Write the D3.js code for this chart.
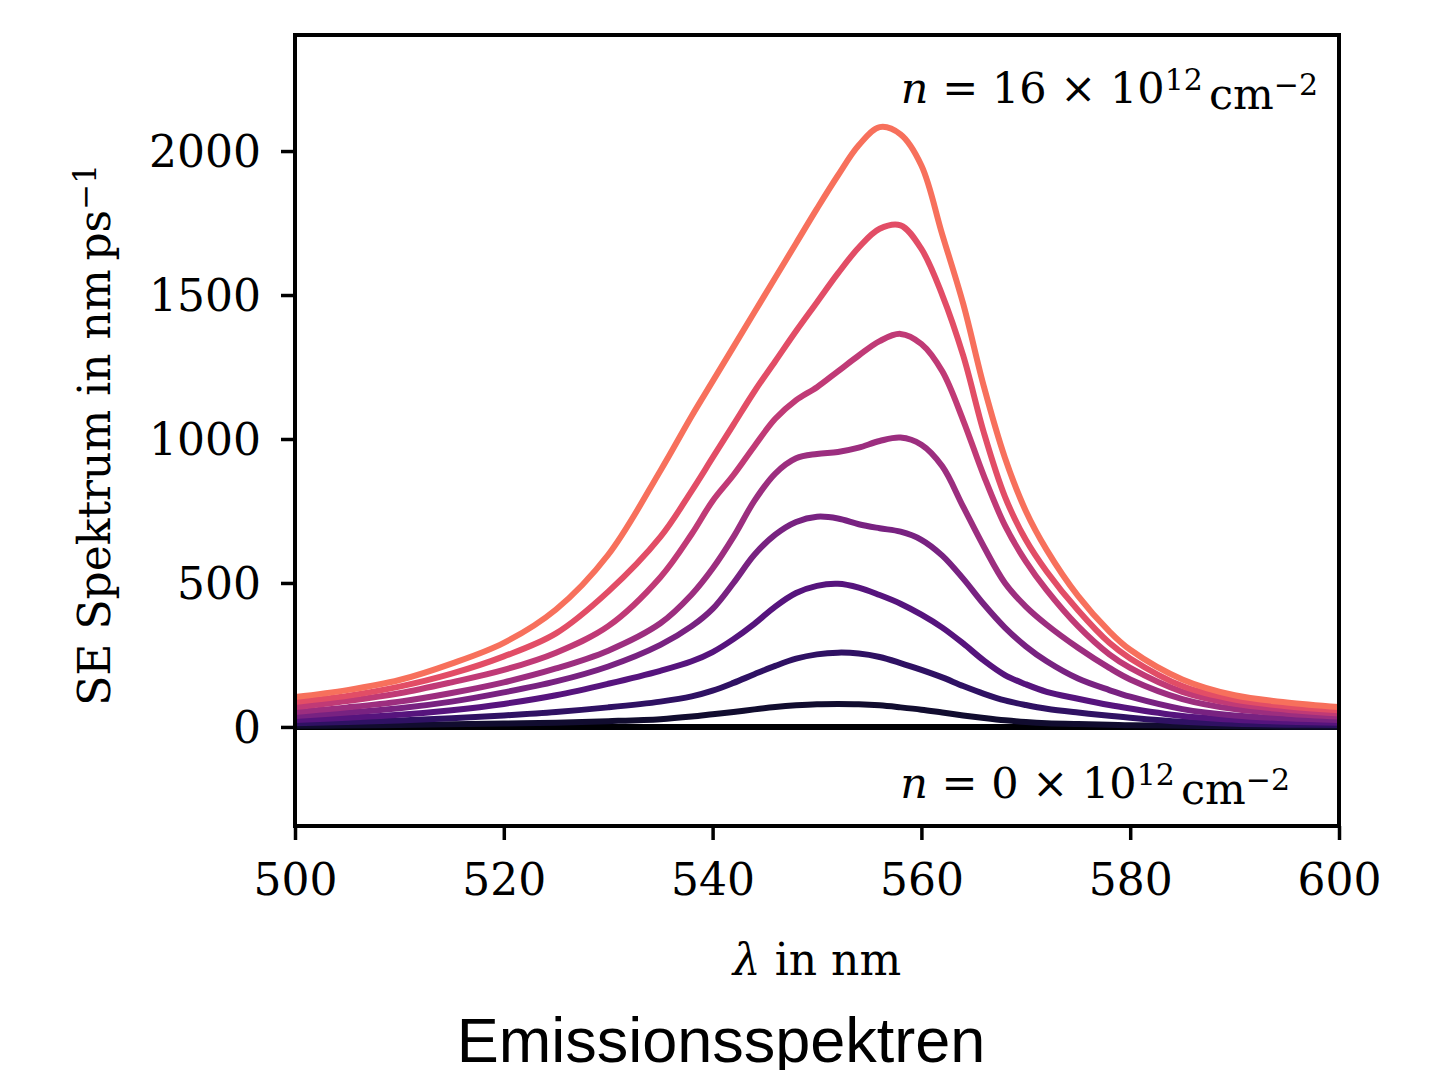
<!DOCTYPE html>
<html>
<head>
<meta charset="utf-8">
<script src="https://cdn.jsdelivr.net/npm/d3@7"></script>
<style>
  body { margin: 0; background: #ffffff; }
  svg { display: block; }
</style>
</head>
<body>
<svg id="chart" width="1436" height="1070"></svg>
<script>
// Wavelength grid (nm) shared by all spectra
const wavelengths = [500, 505, 510, 515, 520, 525, 530, 535, 538, 540, 542, 544, 546, 548, 550, 552, 554,
                     556, 558, 560, 562, 564, 566, 568, 570, 572, 575, 578, 580, 585, 590, 595, 600];

// Carrier densities in units of 10^12 cm^-2
const densities = [0, 2, 4, 6, 8, 10, 12, 14, 16];

// Stimulated-emission spectra (nm/ps) for each carrier density
const se_n0  = [0, 0, 0, 0, 0, 0, 0, 0, 0, 0, 0, 0, 0, 0, 0, 0, 0,
                0, 0, 0, 0, 0, 0, 0, 0, 0, 0, 0, 0, 0, 0, 0, 0];
const se_n2  = [4, 5, 7, 9, 12, 15, 20, 27, 36, 44, 52, 61, 69, 75, 79, 80, 79,
                75, 68, 60, 50, 40, 31, 23, 17, 13, 10, 8, 6, 4, 2, 1, 1];
const se_n4  = [13, 17, 22, 30, 40, 52, 68, 88, 106, 126, 153, 183, 212, 237, 252, 258, 255,
                243, 222, 198, 172, 142, 115, 92, 76, 63, 50, 39, 32, 18, 11, 8, 7];
const se_n6  = [24, 32, 42, 58, 80, 110, 150, 195, 228, 260, 305, 358, 418, 465, 490, 497, 484,
                458, 428, 390, 345, 290, 230, 180, 148, 122, 98, 76, 64, 38, 25, 18, 15];
const se_n8  = [38, 50, 65, 88, 120, 158, 210, 285, 350, 410, 500, 598, 668, 712, 730, 724, 704,
                690, 678, 650, 595, 515, 425, 345, 280, 228, 168, 128, 105, 62, 40, 30, 24];
const se_n10 = [52, 68, 88, 118, 155, 203, 265, 360, 460, 550, 660, 785, 880, 933, 948, 955, 970,
                993, 1005, 980, 905, 765, 625, 500, 418, 355, 275, 205, 165, 97, 62, 46, 36];
const se_n12 = [69, 90, 117, 155, 198, 258, 350, 520, 670, 785, 875, 975, 1070, 1135, 1180, 1235, 1290,
                1340, 1365, 1330, 1235, 1065, 870, 700, 575, 475, 350, 252, 205, 122, 80, 60, 47];
const se_n14 = [87, 108, 140, 185, 245, 325, 470, 660, 820, 935, 1050, 1165, 1270, 1375, 1475, 1575, 1665,
                1730, 1742, 1660, 1500, 1290, 1020, 800, 650, 540, 405, 292, 238, 142, 95, 72, 58];
const se_n16 = [104, 128, 163, 220, 292, 408, 598, 890, 1080, 1200, 1320, 1440, 1560, 1680, 1800, 1915, 2020,
                2083, 2058, 1950, 1710, 1470, 1180, 935, 750, 615, 455, 332, 268, 165, 110, 85, 69];

const spectra = [se_n0, se_n2, se_n4, se_n6, se_n8, se_n10, se_n12, se_n14, se_n16];

// Axis ticks
const xTicks = [500, 520, 540, 560, 580, 600];
const yTicks = [0, 500, 1000, 1500, 2000];

const svg = d3.select("#chart");
const serif = "'DejaVu Serif', 'Liberation Serif', serif";

const plot = { left: 295, right: 1339, top: 35, bottom: 826 };

const x = d3.scaleLinear().domain([500, 600]).range([plot.left, plot.right]);
const y = d3.scaleLinear().domain([-344, 2403]).range([plot.bottom, plot.top]);

// Magma colours from black (n = 0) to coral (n = 16)
const color = d3.scaleLinear().domain([0, 16]).range([0, 0.7]);

svg.append("defs").append("clipPath").attr("id", "plot-clip")
  .append("rect")
  .attr("x", plot.left).attr("y", plot.top)
  .attr("width", plot.right - plot.left).attr("height", plot.bottom - plot.top);

const line = d3.line()
  .x(d => x(d[0]))
  .y(d => y(d[1]))
  .curve(d3.curveCatmullRom.alpha(0.5));

const curves = svg.append("g").attr("clip-path", "url(#plot-clip)");
spectra.forEach((vals, i) => {
  const pts = wavelengths.map((w, j) => [w, vals[j]]);
  curves.append("path")
    .datum(pts)
    .attr("d", line)
    .attr("fill", "none")
    .attr("stroke", d3.interpolateMagma(color(densities[i])))
    .attr("stroke-width", 6)
    .attr("stroke-linejoin", "round")
    .attr("stroke-linecap", "butt");
});

// Axes
const xAxis = svg.append("g")
  .attr("transform", `translate(0,${plot.bottom})`)
  .call(d3.axisBottom(x).tickValues(xTicks).tickFormat(d3.format("d")).tickSize(14).tickSizeOuter(0).tickPadding(24));
const yAxis = svg.append("g")
  .attr("transform", `translate(${plot.left},0)`)
  .call(d3.axisLeft(y).tickValues(yTicks).tickFormat(d3.format("d")).tickSize(14).tickSizeOuter(0).tickPadding(20));

[xAxis, yAxis].forEach(g => {
  g.select(".domain").remove();
  g.selectAll(".tick line").attr("stroke", "#000").attr("stroke-width", 3.5);
  g.selectAll(".tick text")
    .attr("fill", "#000")
    .style("font-family", serif)
    .style("font-size", "44px");
});
xAxis.selectAll(".tick text").attr("dy", "0.71em");
yAxis.selectAll(".tick text").attr("dy", "0.36em");

// Frame
svg.append("rect")
  .attr("x", plot.left).attr("y", plot.top)
  .attr("width", plot.right - plot.left).attr("height", plot.bottom - plot.top)
  .attr("fill", "none").attr("stroke", "#000").attr("stroke-width", 4);

// Axis labels
svg.append("text")
  .attr("x", (plot.left + plot.right) / 2).attr("y", 975)
  .attr("text-anchor", "middle")
  .style("font-family", serif).style("font-size", "44px")
  .call(t => {
    t.append("tspan").style("font-style", "italic").text("λ");
    t.append("tspan").text(" in nm");
  });

svg.append("text")
  .attr("transform", "translate(110,435) rotate(-90)")
  .attr("text-anchor", "middle")
  .style("font-family", serif).style("font-size", "44px")
  .call(t => {
    t.append("tspan").text("SE Spektrum in nm\u2009ps");
    t.append("tspan").attr("dy", "-0.45em").style("font-size", "31px").text("\u22121");
  });

// Density annotations
function densityLabel(value, xRight, yBase) {
  const t = svg.append("text")
    .attr("x", xRight).attr("y", yBase)
    .attr("text-anchor", "end")
    .style("font-family", serif).style("font-size", "43px");
  t.append("tspan").style("font-style", "italic").text("n");
  t.append("tspan").text(` = ${value} × 10`);
  t.append("tspan").attr("dy", "-0.45em").style("font-size", "30px").text("12");
  t.append("tspan").attr("dy", "0.45em").attr("dx", "6").text("cm");
  t.append("tspan").attr("dy", "-0.45em").style("font-size", "30px").text("\u22122");
}
densityLabel(densities[densities.length - 1], 1318, 103);
densityLabel(densities[0], 1290, 798);

// Caption
svg.append("text")
  .attr("x", 721).attr("y", 1062)
  .attr("text-anchor", "middle")
  .style("font-family", "'Liberation Sans', Arial, sans-serif")
  .style("font-size", "63px")
  .text("Emissionsspektren");
</script>
</body>
</html>
